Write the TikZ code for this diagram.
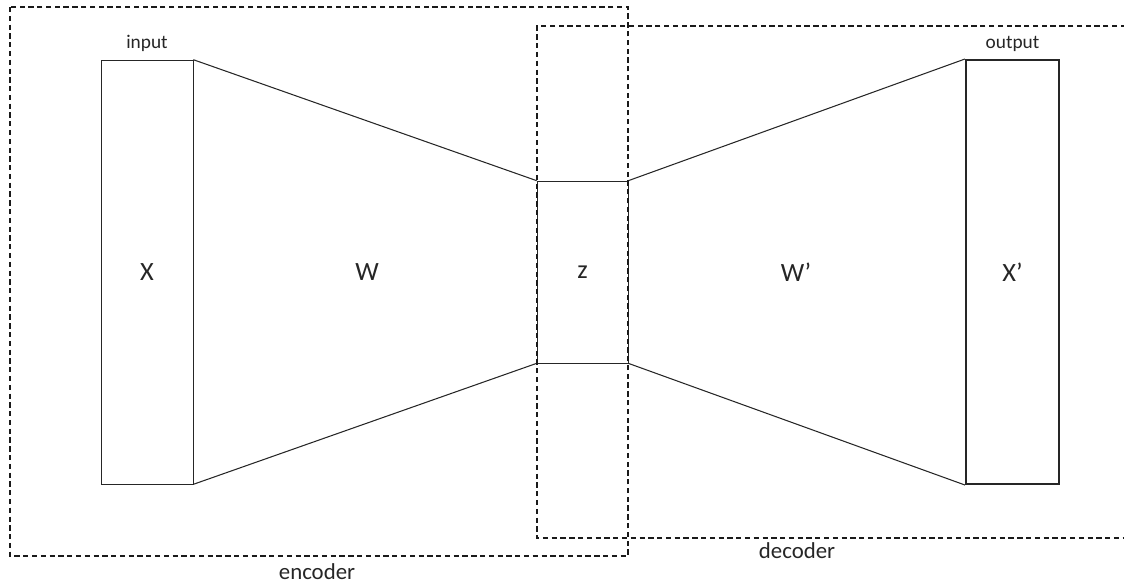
\documentclass[tikz,border=0pt]{standalone}
\usepackage{fontspec}
\setmainfont{Carlito}
\usepackage{xcolor}
\usepackage{tikz}
\usetikzlibrary{positioning}
\definecolor{Ink}{HTML}{262626}
\definecolor{Frame}{HTML}{1A1A1A}

\begin{document}
\begin{tikzpicture}[x=0.02cm,y=-0.02cm]
\tikzset{layer/.style={draw=Ink,inner sep=0pt,minimum width=1.84cm,font=\fontsize{15}{18}\selectfont,text=Ink}, frame/.style={draw=Frame,dash pattern=on 3pt off 2pt,semithick}, tag/.style={font=\fontsize{11}{13}\selectfont,text=Ink}, part/.style={font=\fontsize{13}{15}\selectfont,text=Ink}}
\useasboundingbox (0,0) rectangle (1124,586);
\node[layer,minimum height=8.48cm] (inp) at (147,272) {X};
\node[layer,minimum width=1.82cm,minimum height=3.64cm] (z) at (582.5,272) {z};
\node[layer,minimum width=1.86cm,minimum height=8.48cm,line width=1.2pt] (out) at (1012.5,272) {X’};
\node[tag,above=0.3mm of inp.north] (inlbl) {input};
\node[tag,above=0.3mm of out.north] (outlbl) {output};
\node[layer,draw=none] (w) at (367,272) {W};
\node[layer,draw=none] (wd) at (796,272) {W’};
\draw[Ink,semithick] (inp.north east) -- (z.north west);
\draw[Ink,semithick] (inp.south east) -- (z.south west);
\draw[Ink,semithick] (z.north east) -- (out.north west);
\draw[Ink,semithick] (z.south east) -- (out.south west);
% encoder and decoder frames
\draw[frame] (10,7) coordinate (enc) rectangle (628,556);
\draw[frame] (1126,26) -- (537,26) -- (537,538) coordinate (dec) -- (1126,538);
\node[part] (enclbl) at (317,572) {encoder};
\node[part] (declbl) at (797,551) {decoder};
\end{tikzpicture}
\end{document}
